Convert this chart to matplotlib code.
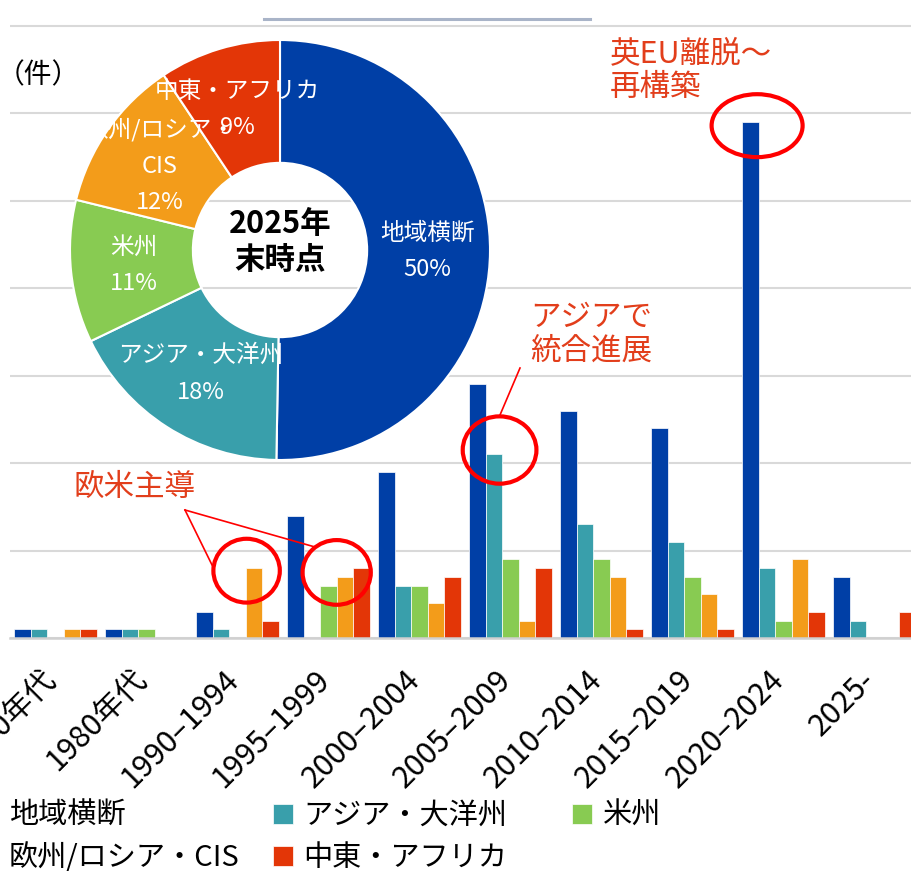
import matplotlib
matplotlib.use('Agg')
import matplotlib.pyplot as plt
import matplotlib.transforms as mtransforms
import numpy as np
from matplotlib.patches import Ellipse
from matplotlib.lines import Line2D

plt.rcParams['font.family'] = ['Noto Sans CJK JP', 'DejaVu Sans']

# data (counts per period)
categories = ['1970年代', '1980年代', '1990–1994', '1995–1999', '2000–2004',
              '2005–2009', '2010–2014', '2015–2019', '2020–2024', '2025-']
cross_region = [1, 1, 3, 14, 19, 29, 26, 24, 59, 7]
asia_pacific = [1, 1, 1, 0, 6, 21, 13, 11, 8, 2]
americas = [0, 1, 0, 6, 6, 9, 9, 7, 2, 0]
europe_cis = [1, 0, 8, 7, 4, 2, 7, 5, 9, 0]
mideast_africa = [1, 0, 2, 8, 7, 8, 1, 1, 3, 3]

series_names = ['地域横断', 'アジア・大洋州', '米州', '欧州/ロシア・CIS', '中東・アフリカ']
pie_names = ['地域横断', 'アジア・大洋州', '米州', '欧州/ロシア・\nCIS', '中東・アフリカ']
colors = ['#003FA6', '#399FAB', '#88CB52', '#F39C1A', '#E33607']
series = [cross_region, asia_pacific, americas, europe_cis, mideast_africa]

W, H = 912, 871
def fx(x):
    return x / W
def fy(y):
    return 1 - y / H

fig = plt.figure(figsize=(W / 100, H / 100), dpi=100)
unit = 612 / 70  # px per count

ax = fig.add_axes([fx(10), fy(638), 910 / W, 70.5 * unit / H])
x = np.arange(len(categories))
bw = 0.182
bars = []
for j, vals in enumerate(series):
    b = ax.bar(x + (j - 2) * bw, vals, width=bw, color=colors[j],
               edgecolor='white', linewidth=0.5, label=series_names[j])
    bars.append(b)

ax.set_xlim(-0.5, len(categories) - 0.5)
ax.set_ylim(0, 70.5)
ax.set_yticks(np.arange(0, 71, 10))
ax.set_yticklabels([])
ax.yaxis.grid(True, color='#d9d9d9', linewidth=1.5)
ax.set_axisbelow(True)
for s in ['top', 'left', 'right']:
    ax.spines[s].set_visible(False)
ax.spines['bottom'].set_color('#d0d0d0')
ax.spines['bottom'].set_linewidth(1.8)
ax.tick_params(length=0)
ax.set_xticks(x)
ax.set_xticklabels(categories, rotation=45, ha='right', va='center',
                   rotation_mode='anchor', fontsize=22)
ax.tick_params(axis='x', pad=27)
shift = mtransforms.ScaledTranslation(-4 / 100, 0, fig.dpi_scale_trans)
for lab in ax.get_xticklabels():
    lab.set_transform(lab.get_transform() + shift)

# red circles on highlighted bars
ovals = [(2.10, 7.7, 0.73, 7.3), (3.09, 7.5, 0.75, 7.4),
         (4.88, 21.5, 0.81, 7.7), (7.71, 58.6, 1.0, 7.2)]
for cx, cy, ew, eh in ovals:
    ax.add_patch(Ellipse((cx, cy), ew, eh, fill=False, edgecolor='#ff0000',
                         linewidth=3, clip_on=False, zorder=5))

# annotation texts and leader lines
note_color = '#E23E1B'
fig.text(fx(134), fy(487), '欧米主導', color=note_color, fontsize=22,
         ha='center', va='center')
fig.text(fx(530), fy(334), 'アジアで\n統合進展', color=note_color, fontsize=22,
         ha='left', va='center', linespacing=1.12)
fig.text(fx(610), fy(71), '英EU離脱～\n再構築', color=note_color, fontsize=22,
         ha='left', va='center', linespacing=1.12)
for (x0, y0), (x1, y1) in [((185, 510), (213, 567)), ((185, 510), (315, 547)),
                           ((520, 368), (500, 415))]:
    fig.add_artist(Line2D([fx(x0), fx(x1)], [fy(y0), fy(y1)], color='#ff0000',
                          linewidth=1.2, transform=fig.transFigure))

# unit label and title underline
fig.text(fx(38), fy(75), '（件）', fontsize=20, ha='center', va='center')
fig.add_artist(Line2D([fx(264), fx(590)], [fy(19), fy(19)], color='#a9b4c8',
                      linewidth=2.2, transform=fig.transFigure))

# donut inset
totals = [sum(v) for v in series]
pax = fig.add_axes([fx(70), fy(460), 420 / W, 420 / H])
wedges, _ = pax.pie(totals, colors=colors, startangle=90, counterclock=False,
                    radius=1, wedgeprops=dict(width=0.585, edgecolor='white',
                                              linewidth=1.5))
pax.set_xlim(-1, 1)
pax.set_ylim(-1, 1)
pax.set_aspect('equal')
grand = sum(totals)
for w, name, t in zip(wedges, pie_names, totals):
    ang = np.deg2rad((w.theta1 + w.theta2) / 2)
    pax.text(0.7 * np.cos(ang), 0.7 * np.sin(ang),
             f'{name}\n{round(100 * t / grand)}%', color='white', fontsize=17,
             ha='center', va='center', linespacing=1.75)
pax.text(0, 0.04, '2025年\n末時点', fontsize=22, fontweight='bold',
         ha='center', va='center', linespacing=1.15)

# legend, one block per column
handles = [b.patches[0] for b in bars]
cols = [([0, 3], -22), ([1, 4], 273), ([2], 572)]
for idx, xl in cols:
    fig.legend([handles[i] for i in idx], [series_names[i] for i in idx],
               loc='upper left', bbox_to_anchor=(fx(xl), fy(801)),
               frameon=False, fontsize=21, handlelength=0.7, handleheight=0.7,
               handletextpad=0.35, borderpad=0, borderaxespad=0,
               labelspacing=0.42)

fig.savefig('out.png', dpi=100)
